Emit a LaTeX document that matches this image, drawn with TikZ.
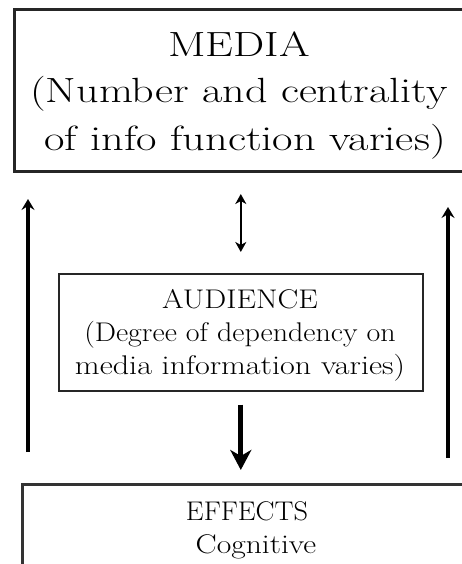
\documentclass[tikz,border=0pt]{standalone}
\usepackage{fontspec}
\usepackage{graphicx}
\usetikzlibrary{arrows.meta}
\tikzset{
  boxm/.style={draw=black!85, line width=3pt, rectangle, inner sep=0pt, anchor=north west},
  boxa/.style={draw=black!85, line width=1.6pt, rectangle, inner sep=0pt, anchor=north west},
  boxe/.style={draw=black!80, line width=2.6pt, rectangle, inner sep=0pt, anchor=north west},
  txtm/.style={anchor=base, inner sep=0pt, font=\fontsize{35}{47}\selectfont},
  txta/.style={anchor=base, inner sep=0pt, font=\fontsize{27}{34}\selectfont},
  txte/.style={anchor=base, inner sep=0pt, font=\fontsize{27}{33}\selectfont},
  sidearrow/.style={line width=3.3pt, -{Stealth[length=11pt,width=13pt,inset=4pt]}},
  dblarrow/.style={line width=2.5pt, {Stealth[length=10pt,width=11pt,inset=3pt]}-{Stealth[length=10pt,width=11pt,inset=3pt]}},
  downarrow/.style={line width=5pt, -{Stealth[length=20pt,width=21pt,inset=6pt]}}
}
\begin{document}
\begin{tikzpicture}[x=1pt,y=-1pt]
\useasboundingbox (0,0) rectangle (462,564);
\clip (0,0) rectangle (462,564);
% boxes
\node[boxm, minimum width=462pt, minimum height=162pt] (media) at (13,8) {};
\node[boxa, minimum width=364pt, minimum height=117pt] (aud) at (58,273) {};
\node[boxe, minimum width=460pt, minimum height=130pt] (effects) at (21,483) {};
% media text
\node[txtm] (m1) at (239,57) {\scalebox{1.26}[1]{MEDIA}};
\node[txtm] (m2) at (239,103) {\scalebox{1.26}[1]{(Number and centrality}};
\node[txtm] (m3) at (245,151) {\scalebox{1.27}[1]{of info function varies)}};
% audience text
\node[txta] (a1) at (240,308) {\scalebox{1.15}[1]{AUDIENCE}};
\node[txta] (a2) at (240,341) {\scalebox{1.11}[1]{(Degree of dependency on}};
\node[txta] (a3) at (240,374) {\scalebox{1.19}[1]{media information varies)}};
% effects text
\node[txte] (e1) at (247,520) {\scalebox{1.05}[1]{EFFECTS}};
\node[txte] (e2) at (256,553) {\scalebox{1.17}[1]{Cognitive}};
% side arrows
\coordinate (L1) at (28,452);
\coordinate (L2) at (28,199);
\coordinate (R1) at (448,458);
\coordinate (R2) at (448,207);
\draw[sidearrow] (L1) -- (L2);
\draw[sidearrow] (R1) -- (R2);
% centre arrows
\draw[dblarrow, shorten <=21pt, shorten >=21pt] (aud.north |- media.south) -- (aud.north);
\draw[downarrow, shorten <=13pt, shorten >=13pt] (aud.south) -- (aud.south |- effects.north);
\end{tikzpicture}
\end{document}
